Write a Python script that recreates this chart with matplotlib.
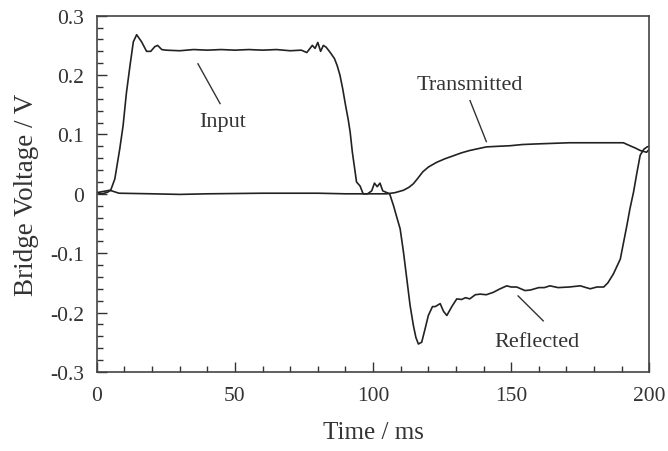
import matplotlib
matplotlib.use("Agg")
import matplotlib.pyplot as plt
from matplotlib.ticker import MultipleLocator, FuncFormatter

# Incident-bar trace (Input pulse followed by Reflected pulse)
incident_t = [0, 2, 4, 5, 6.5, 8.3, 9.5, 10.7, 12, 13.2, 14.4, 16.2, 18, 19.5, 21, 22, 23.5, 25,
              30, 35, 40, 45, 50, 55, 60, 65, 70, 74, 76, 78, 79, 80, 81, 82, 83, 84.5, 86, 87,
              88, 89, 90, 91, 91.7, 92.5, 93.5, 94, 95.3, 96.4, 98, 99.5, 100.5, 101.5, 102.5,
              103.5, 105, 106, 107.4, 108.5, 109.8, 111, 112.2, 113.4, 114.6, 115.5, 116.4,
              117.6, 118.8, 120, 120.7, 121.5, 122.5, 124.3, 125.5, 126.7, 128.5, 130.3, 132,
              133.5, 135, 137, 138.8, 141, 143.5, 146, 148.4, 150, 152, 155, 157, 160, 162, 164,
              167, 171, 175, 178.6, 181, 183.5, 185, 187, 189.5, 191.9, 193, 194.3, 195.5, 196.7,
              198, 199.2, 200]
incident_v = [0.002, 0.0, 0.003, 0.006, 0.025, 0.076, 0.115, 0.17, 0.216, 0.256, 0.268, 0.256,
              0.24, 0.24, 0.248, 0.25, 0.243, 0.242, 0.241, 0.243, 0.242, 0.243, 0.242, 0.243,
              0.242, 0.243, 0.241, 0.242, 0.238, 0.25, 0.245, 0.255, 0.24, 0.25, 0.247, 0.238,
              0.228, 0.216, 0.2, 0.177, 0.15, 0.125, 0.104, 0.07, 0.037, 0.02, 0.013, 0.0, 0.0,
              0.005, 0.018, 0.012, 0.018, 0.005, 0.002, 0.0, -0.02, -0.038, -0.059, -0.098,
              -0.143, -0.188, -0.222, -0.242, -0.253, -0.25, -0.228, -0.205, -0.198, -0.19,
              -0.19, -0.185, -0.198, -0.205, -0.19, -0.177, -0.178, -0.175, -0.177, -0.17,
              -0.169, -0.17, -0.166, -0.16, -0.155, -0.157, -0.157, -0.163, -0.162, -0.158,
              -0.158, -0.155, -0.158, -0.157, -0.155, -0.16, -0.157, -0.157, -0.15, -0.135,
              -0.11, -0.053, -0.025, 0.003, 0.035, 0.065, 0.075, 0.079, 0.08]

# Transmitted-bar trace
transmitted_t = [0, 4.7, 8, 20, 30, 40, 60, 80, 90, 100, 105, 108, 111, 113, 114.6, 116, 118,
                 120, 123, 126, 129, 132, 135, 138, 141, 145, 149.6, 154, 159, 165, 171, 180,
                 190.6, 193, 195, 196.7, 199, 200]
transmitted_v = [0.002, 0.006, 0.001, 0.0, -0.001, 0.0, 0.001, 0.001, 0.0, 0.0, 0.0, 0.002,
                 0.006, 0.011, 0.017, 0.025, 0.037, 0.045, 0.053, 0.059, 0.064, 0.069, 0.073,
                 0.076, 0.079, 0.08, 0.081, 0.083, 0.084, 0.085, 0.086, 0.086, 0.086, 0.081,
                 0.077, 0.073, 0.07, 0.075]

x_ticks = [0, 50, 100, 150, 200]
y_ticks = [-0.3, -0.2, -0.1, 0, 0.1, 0.2, 0.3]

plt.rcParams['font.family'] = ['Liberation Serif', 'DejaVu Serif']
txt = '#333333'

fig = plt.figure(figsize=(6.68, 4.52), dpi=100)
ax = fig.add_axes([0.145, 0.175, 0.827, 0.788])

ax.plot(incident_t, incident_v, color='#222222', lw=1.2)
ax.plot(transmitted_t, transmitted_v, color='#222222', lw=1.2)

ax.set_xlim(0, 200)
ax.set_ylim(-0.3, 0.3)
ax.set_xticks(x_ticks)
ax.set_yticks(y_ticks)
ax.xaxis.set_minor_locator(MultipleLocator(10))
ax.yaxis.set_minor_locator(MultipleLocator(0.02))

def yfmt(v, pos):
    if abs(v) < 1e-9:
        return '0'
    return ('%.1f' % v)
ax.yaxis.set_major_formatter(FuncFormatter(yfmt))

ax.tick_params(which='major', direction='in', length=7, width=1.0, labelsize=15.5,
               labelcolor=txt, color='#333333', top=False, right=False)
ax.tick_params(which='minor', direction='in', length=4, width=1.0, color='#333333',
               top=False, right=False)
ax.tick_params(axis='x', which='major', pad=10)
ax.tick_params(axis='y', which='major', pad=9)
for s in ax.spines.values():
    s.set_color('#444444')
    s.set_linewidth(1.2)

ax.set_xlabel('Time / ms', fontsize=18, color=txt, labelpad=12)
ax.set_ylabel('Bridge Voltage / V', fontsize=19.5, color=txt, labelpad=8)

# annotations
ax.text(45.7, 0.121, 'Input', fontsize=16, color=txt, ha='center', va='center')
ax.plot([36.6, 44.6], [0.219, 0.152], color='#333333', lw=1.0)
ax.text(135.1, 0.184, 'Transmitted', fontsize=16, color=txt, ha='center', va='center')
ax.plot([135.1, 141.0], [0.157, 0.088], color='#333333', lw=1.0)
ax.text(159.4, -0.249, 'Reflected', fontsize=16, color=txt, ha='center', va='center')
ax.plot([152.5, 161.6], [-0.172, -0.214], color='#333333', lw=1.0)

fig.savefig('out.png', dpi=100)
